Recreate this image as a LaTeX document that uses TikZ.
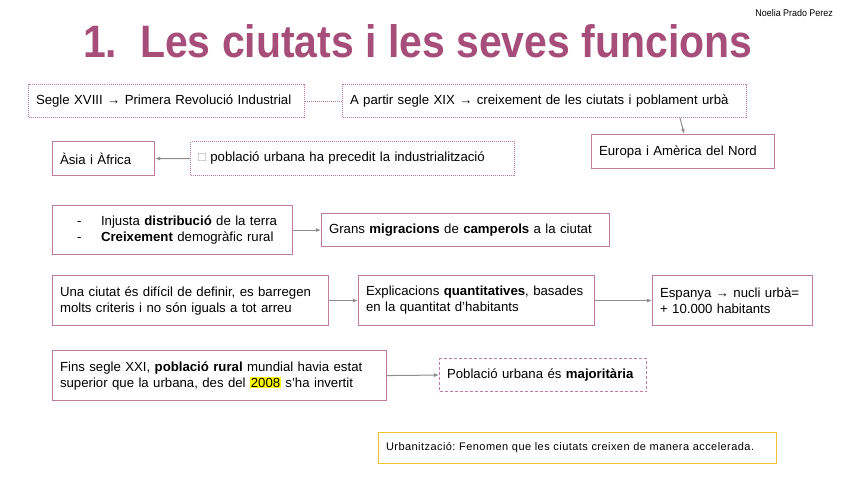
\documentclass[tikz,border=0pt]{standalone}
\usepackage{fontspec}
\setmainfont{Liberation Sans}
\newfontfamily\titlefont{Liberation Sans}[FakeStretch=0.9]
\newfontfamily\smallfont{Liberation Sans}[FakeStretch=0.92]
\newfontfamily\spacedfont{Liberation Sans}[LetterSpace=4]
\usetikzlibrary{arrows.meta}
\definecolor{pinkc}{HTML}{C27BA0}
\definecolor{titlec}{HTML}{A64D79}
\definecolor{yelc}{HTML}{F1C232}
\definecolor{arrc}{HTML}{8C8C8C}
\definecolor{hl}{HTML}{FFFF00}
\frenchspacing
\tikzset{
  boxbase/.style={anchor=north west, inner xsep=7.5pt, inner ysep=0pt, align=left,
    font=\fontsize{13.2pt}{16pt}\selectfont, line width=1.1pt},
  solidbox/.style={boxbase, draw=pinkc},
  dotbox/.style={boxbase, draw=pinkc, dash pattern=on 1pt off 1pt, line width=1pt},
  dashbox/.style={boxbase, draw=pinkc, dash pattern=on 3pt off 2pt, line width=1.1pt},
  yelbox/.style={boxbase, draw=yelc, line width=1.1pt, font=\spacedfont\fontsize{11pt}{13pt}\selectfont},
  conn/.style={draw=arrc, line width=1pt, -{Latex[length=5pt,width=4pt]}},
  dotconn/.style={draw=pinkc!70!gray, line width=1pt, dash pattern=on 1pt off 1pt}
}
\begin{document}
\begin{tikzpicture}[x=1pt,y=-1pt]
\useasboundingbox (0,0) rectangle (848,477);
\fill[white] (0,0) rectangle (848,477);
\node[anchor=base west, text=titlec, inner sep=0pt, font=\titlefont\bfseries\fontsize{45.5pt}{50pt}\selectfont] (title) at (83,57) {1.\ \ Les ciutats i les seves funcions};
\node[anchor=base east, inner sep=0pt, font=\smallfont\fontsize{9.7pt}{11pt}\selectfont] (author) at (833,16) {Noelia Prado Perez};

\node[dotbox, text width=261pt, minimum height=33pt] (b1) at (28,84) {Segle XVIII → Primera Revolució Industrial};
\node[dotbox, text width=389pt, minimum height=33pt] (b2) at (342,84) {A partir segle XIX → creixement de les ciutats i poblament urbà};
\node[solidbox, text width=168pt, minimum height=34pt] (b3) at (591,134) {Europa i Amèrica del Nord};
\node[solidbox, text width=87pt, minimum height=34pt] (b4) at (52,141) {Àsia i Àfrica};
\node[dotbox, text width=309pt, minimum height=34pt] (b5) at (190,141) {\textcolor{gray!70}{□} població urbana ha precedit la industrialització};
\node[solidbox, text width=225pt, minimum height=49pt] (b6) at (52,205) {\hspace*{17pt}\makebox[24pt][l]{-}Injusta \textbf{distribució} de la terra\\\hspace*{17pt}\makebox[24pt][l]{-}\textbf{Creixement} demogràfic rural};
\node[solidbox, text width=273pt, minimum height=33pt] (b7) at (321,213) {Grans \textbf{migracions} de \textbf{camperols} a la ciutat};
\node[solidbox, text width=261pt, minimum height=50pt] (b8) at (52,275) {Una ciutat és difícil de definir, es barregen\\molts criteris i no són iguals a tot arreu};
\node[solidbox, text width=221pt, minimum height=50pt] (b9) at (358,275) {Explicacions \textbf{quantitatives}, basades\\en la quantitat d'habitants};
\node[solidbox, text width=145pt, minimum height=50pt] (b10) at (652,275) {Espanya → nucli urbà=\\+ 10.000 habitants};
\node[solidbox, text width=319pt, minimum height=50pt] (b11) at (52,350) {Fins segle XXI, \textbf{població rural} mundial havia estat\\superior que la urbana, des del {\setlength{\fboxsep}{0.8pt}\colorbox{hl}{2008}} s'ha invertit};
\node[dashbox, text width=192pt, minimum height=33pt] (b12) at (439,358) {Població urbana és \textbf{majoritària}};
\node[yelbox, text width=383pt, minimum height=31pt] (b13) at (378,432) {Urbanització: Fenomen que les ciutats creixen de manera accelerada.};

\draw[dotconn] (b1.east) -- (b2.west);
\draw[conn] (b5.west) -- (b4.east);
\draw[conn] ([xshift=-67pt]b2.south east) -- ([xshift=-91pt]b3.north east);
\draw[conn] (b6.east |- b7.west) -- (b7.west);
\draw[conn] (b8.east) -- (b9.west);
\draw[conn] (b9.east) -- (b10.west);
\draw[conn] (b11.east) -- (b12.west);
\end{tikzpicture}
\end{document}
